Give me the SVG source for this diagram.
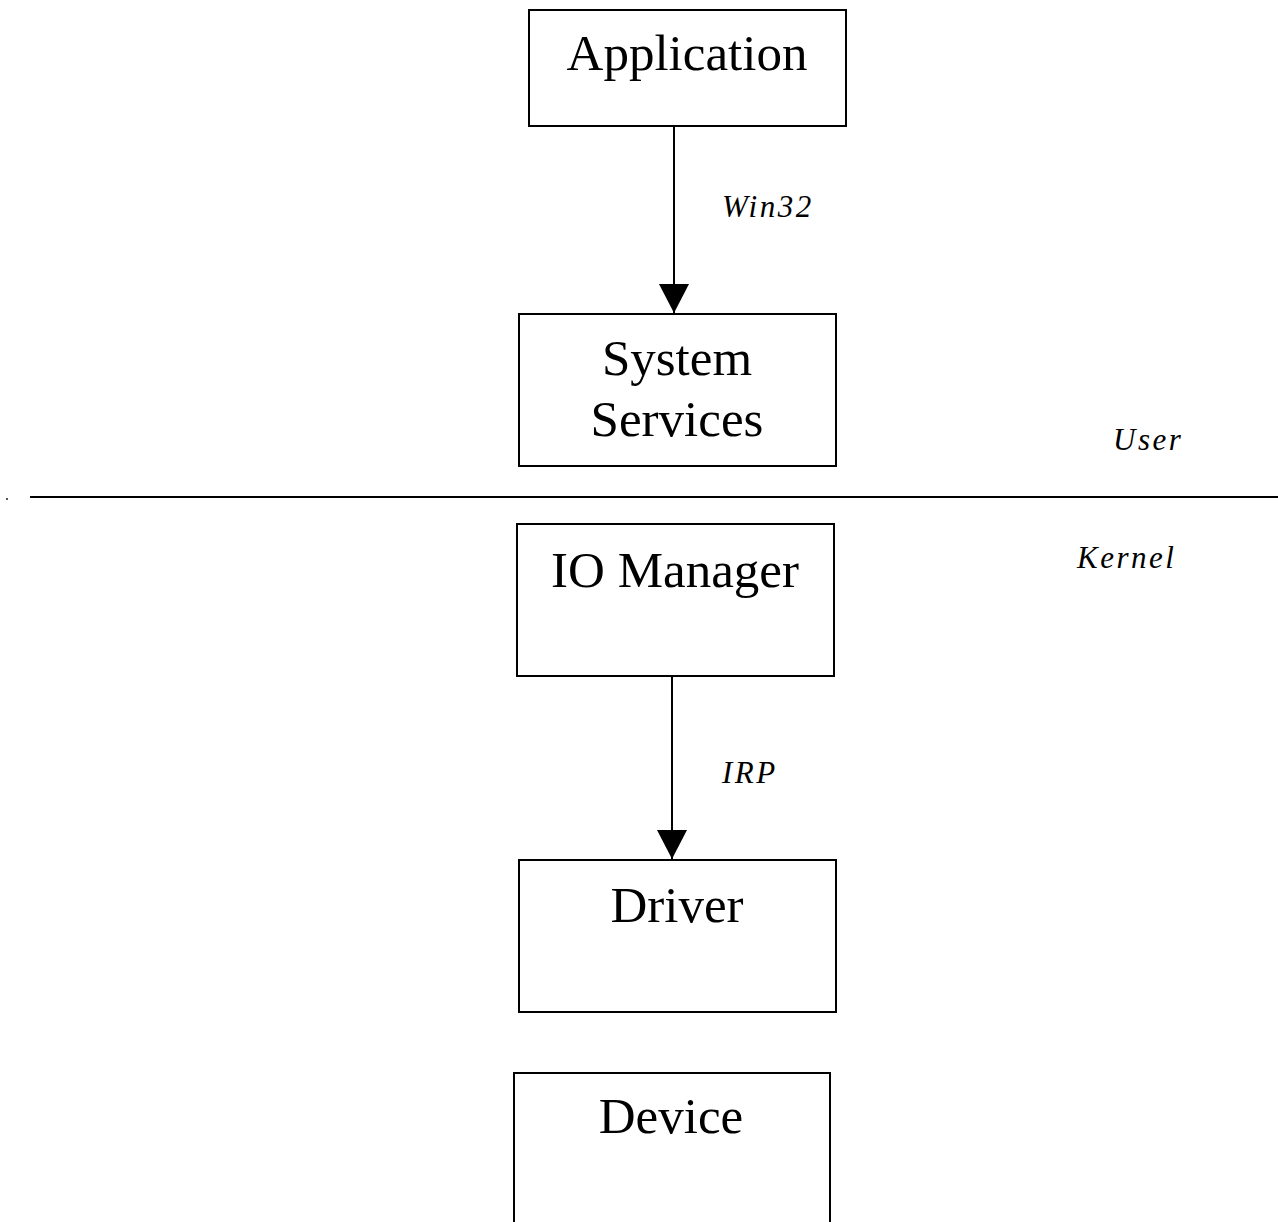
<svg xmlns="http://www.w3.org/2000/svg" width="1278" height="1222" viewBox="0 0 1278 1222">
  <style>
    .box { fill: #fff; stroke: #000; stroke-width: 2; }
    .lbl { font-family: "Liberation Serif", "Times New Roman", serif; font-size: 51px; fill: #000; text-anchor: middle; }
    .note { font-family: "Liberation Serif", "Times New Roman", serif; font-style: italic; font-size: 31px; letter-spacing: 2.5px; fill: #000; }
    .wire { stroke: #000; stroke-width: 2; fill: none; }
  </style>
  <defs>
    <!-- solid triangular head, drawn along +x so orient="auto" turns it with the line -->
    <marker id="arrowhead" markerUnits="userSpaceOnUse" markerWidth="30" markerHeight="32" refX="29" refY="16" orient="auto" viewBox="0 0 30 32">
      <path d="M0,1 L29,16 L0,31 Z" fill="#000"/>
    </marker>
  </defs>
  <rect width="1278" height="1222" fill="#fff"/>

  <g id="application">
    <rect class="box" x="529" y="10" width="317" height="116"/>
    <text class="lbl" x="687" y="70">Application</text>
  </g>

  <g id="system-services">
    <rect class="box" x="519" y="314" width="317" height="152"/>
    <text class="lbl" x="677" y="375">System</text>
    <text class="lbl" x="677" y="436">Services</text>
  </g>

  <g id="io-manager">
    <rect class="box" x="517" y="524" width="317" height="152"/>
    <text class="lbl" x="675" y="587">IO Manager</text>
  </g>

  <g id="driver">
    <rect class="box" x="519" y="860" width="317" height="152"/>
    <text class="lbl" x="677" y="922">Driver</text>
  </g>

  <g id="device">
    <rect class="box" x="514" y="1073" width="316" height="160"/>
    <text class="lbl" x="671" y="1133">Device</text>
  </g>

  <g id="connectors">
    <line class="wire" x1="674" y1="127" x2="674" y2="313" marker-end="url(#arrowhead)"/>
    <line class="wire" x1="672" y1="677" x2="672" y2="859" marker-end="url(#arrowhead)"/>
    <text class="note" x="722" y="217">Win32</text>
    <text class="note" x="722" y="783">IRP</text>
  </g>

  <g id="boundary">
    <line x1="30" y1="497" x2="1278" y2="497" stroke="#000" stroke-width="2"/>
    <rect x="6" y="498" width="2" height="2" fill="#555"/>
    <text class="note" x="1113" y="450">User</text>
    <text class="note" x="1077" y="568">Kernel</text>
  </g>
</svg>
